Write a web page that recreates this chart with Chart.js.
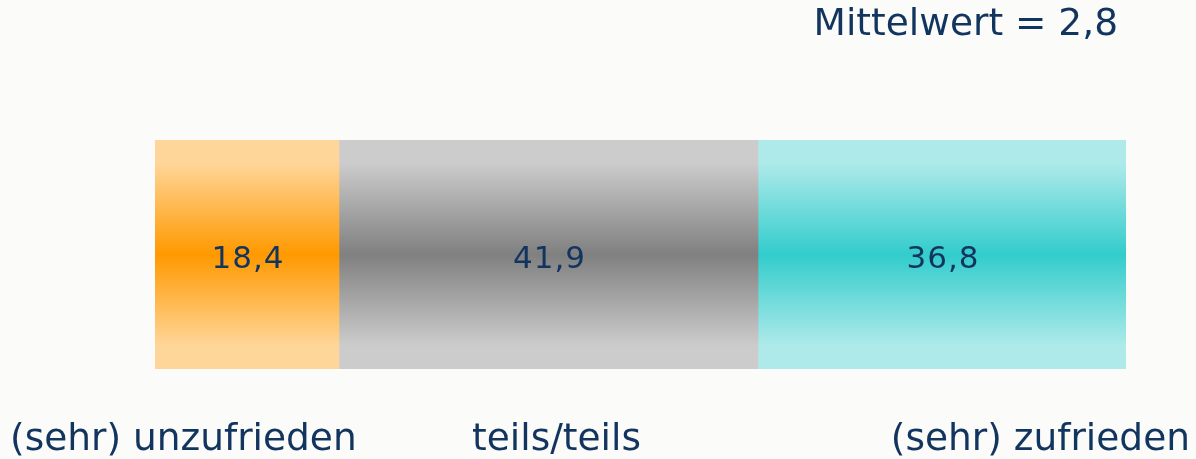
<!DOCTYPE html>
<html>
<head>
<meta charset="utf-8">
<script src="https://cdn.jsdelivr.net/npm/chart.js@4"></script>
<style>
  html, body { margin: 0; padding: 0; background: #fbfbf9; }
  #wrap { width: 1196px; height: 459px; position: relative; }
</style>
</head>
<body>
<div id="wrap"><canvas id="myChart1"></canvas></div>
<script>
// Zufriedenheit, Anteile in %
let categories = ["(sehr) unzufrieden", "teils/teils", "(sehr) zufrieden"];
let values = [18.4, 41.9, 36.8];
let meanLabel = "Mittelwert = 2,8";
// light edge / dark centre of each gradient
let lightColors = ["#ffd699", "#cccccc", "#afeaea"];
let darkColors = ["#ff9900", "#808080", "#33cccc"];

const textColor = "#12355f";
const chartEl = document.getElementById("myChart1");

function makeGradient(ctx, area, i) {
  let g = ctx.createLinearGradient(0, area.top, 0, area.bottom);
  g.addColorStop(0, lightColors[i]);
  g.addColorStop(0.1, lightColors[i]);
  g.addColorStop(0.5, darkColors[i]);
  g.addColorStop(0.9, lightColors[i]);
  g.addColorStop(1, lightColors[i]);
  return g;
}

// values in the bars, labels under them, mean on top
const textPlugin = {
  id: "texts",
  afterDatasetsDraw(chart) {
    const ctx = chart.ctx;
    ctx.save();
    ctx.fillStyle = textColor;
    ctx.textBaseline = "alphabetic";
    ctx.textAlign = "center";
    ctx.font = "31px 'DejaVu Sans'";
    ctx.letterSpacing = "1px";
    chart.data.datasets.forEach((ds, i) => {
      const bar = chart.getDatasetMeta(i).data[0];
      const txt = ds.data[0].toFixed(1).replace(".", ",");
      ctx.fillText(txt, bar.base + (bar.x - bar.base) / 2 + 1, bar.y + 13);
    });
    ctx.letterSpacing = "0px";

    ctx.font = "37.5px 'DejaVu Sans'";
    const y = 450;
    ctx.textAlign = "left";
    ctx.fillText(categories[0], 10, y);
    const mid = chart.getDatasetMeta(1).data[0];
    ctx.textAlign = "center";
    ctx.fillText(categories[1], mid.base + (mid.x - mid.base) / 2 + 8, y);
    ctx.textAlign = "right";
    ctx.fillText(categories[2], chart.width - 6, y);

    ctx.fillText(meanLabel, 1118, 35);
    ctx.restore();
  }
};

function generateChart() {
  new Chart(chartEl, {
    type: "bar",
    data: {
      labels: [""],
      datasets: values.map((v, i) => ({
        label: categories[i],
        data: [v],
        backgroundColor: (c) => {
          const area = c.chart.chartArea;
          if (!area) return darkColors[i];
          return makeGradient(c.chart.ctx, area, i);
        },
        borderWidth: 0,
        categoryPercentage: 1,
        barPercentage: 1
      }))
    },
    options: {
      indexAxis: "y",
      responsive: false,
      animation: false,
      devicePixelRatio: 1,
      layout: { padding: { left: 155, right: 70, top: 140, bottom: 90 } },
      plugins: { legend: { display: false }, tooltip: { enabled: false } },
      scales: {
        x: { stacked: true, min: 0, max: values.reduce((a, b) => a + b, 0), display: false },
        y: { stacked: true, display: false }
      }
    },
    plugins: [textPlugin]
  });
}

chartEl.width = 1196;
chartEl.height = 459;
generateChart();
</script>
</body>
</html>
